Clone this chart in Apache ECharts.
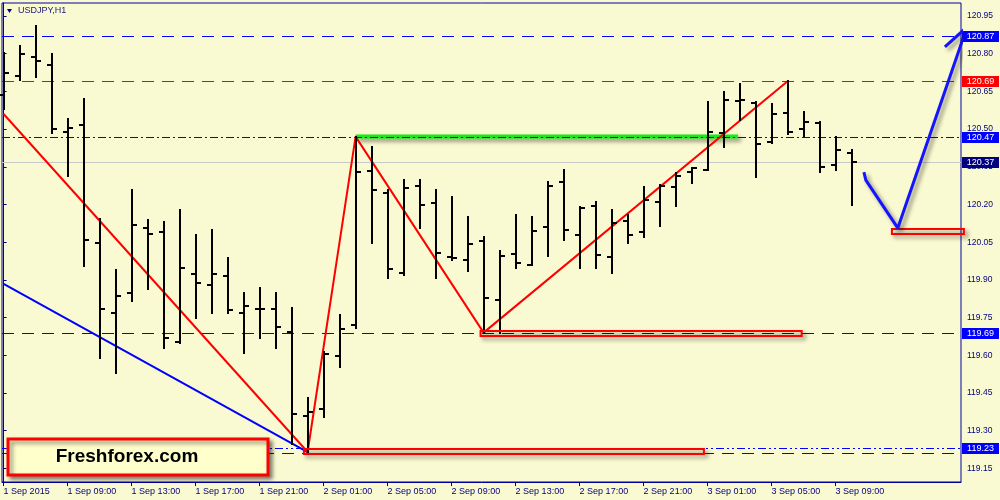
<!DOCTYPE html>
<html><head><meta charset="utf-8">
<script src="https://cdn.jsdelivr.net/npm/echarts@6/dist/echarts.min.js"></script>
<style>html,body{margin:0;padding:0;background:#FAFAD2}#c{width:1000px;height:500px}</style>
</head><body><div id="c"></div>
<script>
// ---- data (USDJPY H1, 1 Sep 05:00 .. 3 Sep 10:00) ----
const opens  = [120.636,120.711,120.787,120.755,120.488,120.516,120.047,119.768,119.848,120.106,
                120.091,119.653,119.923,119.880,119.915,119.768,119.784,119.784,119.693,119.358,
                119.386,119.597,119.720,120.333,120.246,119.927,120.274,120.206,119.991,119.979,
                120.055,119.820,120.003,119.959,120.110,120.289,120.079,120.194,119.991,120.134,
                120.091,120.210,120.270,120.329,120.337,120.484,120.612,120.604,120.449,120.564,
                120.500,120.524,120.357,120.405];
const highs  = [120.803,120.831,120.910,120.799,120.540,120.620,120.142,119.939,120.258,120.138,
                120.130,120.178,120.079,120.098,119.987,119.848,119.868,119.848,119.788,119.430,
                119.613,119.760,120.470,120.429,120.258,120.297,120.297,120.258,120.230,120.150,
                120.071,120.015,120.158,120.150,120.289,120.337,120.190,120.210,120.178,120.158,
                120.270,120.278,120.325,120.345,120.608,120.648,120.679,120.608,120.600,120.690,
                120.568,120.528,120.469,120.417];
const lows   = [120.580,120.695,120.707,120.484,120.313,119.955,119.589,119.529,119.816,119.864,
                119.629,119.649,119.748,119.768,119.768,119.609,119.669,119.629,119.247,119.215,
                119.354,119.553,119.709,120.047,119.907,119.919,120.106,119.907,119.979,119.935,
                119.690,119.690,119.947,119.959,119.995,120.059,119.947,119.947,119.927,120.047,
                120.071,120.114,120.194,120.285,120.337,120.429,120.536,120.309,120.445,120.480,
                120.473,120.329,120.337,120.198];
const closes = [120.723,120.799,120.771,120.500,120.504,120.059,119.784,119.836,120.118,120.083,
                119.669,119.947,119.888,119.923,119.780,119.796,119.784,119.713,119.366,119.374,
                119.605,119.705,120.329,120.258,119.943,120.266,120.198,120.007,119.987,120.043,
                119.828,119.995,119.967,120.095,120.274,120.098,120.186,119.999,120.126,120.079,
                120.218,120.274,120.313,120.345,120.488,120.616,120.616,120.441,120.560,120.488,
                120.528,120.349,120.417,120.369];

const xTickIdx    = [0,4,8,12,16,20,24,28,32,36,40,44,48,52];
const xTickLabels = ['1 Sep 2015','1 Sep 09:00','1 Sep 13:00','1 Sep 17:00','1 Sep 21:00',
                     '2 Sep 01:00','2 Sep 05:00','2 Sep 09:00','2 Sep 13:00','2 Sep 17:00',
                     '2 Sep 21:00','3 Sep 01:00','3 Sep 05:00','3 Sep 09:00'];
const yTickValues = [120.95,120.80,120.65,120.50,120.35,120.20,120.05,119.90,119.75,119.60,119.45,119.30,119.15];

const levelPrices = [120.87,120.69,120.47,120.37,119.69,119.23,119.21];
const levelLabels = ['120.87','120.69','120.47','120.37','119.69','119.23',''];

const redFanLine  = [[0,120.56],[19,119.215]];
const blueFanLine = [[0,119.884],[19,119.215]];
const zigzag      = [[19,119.215],[22,120.47],[30,119.69],[49,120.69]];
const greenLevel  = [[22,120.47],[45.9,120.47]];
const boxes       = [[18.77,119.227,43.77,119.207],[29.81,119.697,49.88,119.677],[55.52,120.102,60.02,120.083]];
const arrowPath   = [[53.77,120.329],[53.89,120.297],[55.89,120.106],[60.21,120.906]];
const arrowHeadL  = [[58.83,120.827],[60.21,120.906]];
const arrowHeadR  = [[60.21,120.906],[60.08,120.783]];

// ---- styles ----
const levelStyles = [
  {color:'#0000ff', dash:[12,8], box:'#0000ff'},
  {color:'#ff0000', dash:[12,8], box:'#ff0000'},
  {color:'#0000ff', dash:[8,3,2,3], box:'#0000ff'},
  {color:'#c8c8c8', dash:null, box:'#000080'},
  {color:'#0000ff', dash:[12,8], box:'#0000ff'},
  {color:'#0000ff', dash:[8,3,2,3,2,3], box:'#0000ff'},
  {color:'#0000ff', dash:[12,8], box:null}
];
const FONT = 'Liberation Sans';
const AXIS = '#000080';
const shadow = {shadowBlur:4, shadowColor:'rgba(0,0,0,0.45)', shadowOffsetX:3, shadowOffsetY:3};

const ohlc = opens.map((o,i)=>[i,o,highs[i],lows[i],closes[i]]);
const levelData = levelPrices.map((p,k)=>[0,p,k]);

const chart = echarts.init(document.getElementById('c'), null, {renderer:'canvas'});
chart.setOption({
  animation:false,
  backgroundColor:'#FAFAD2',
  grid:{left:2, right:39, top:3, bottom:18, show:true, borderColor:'#0000a0', borderWidth:1, backgroundColor:'transparent'},
  xAxis:{
    type:'value', min:-0.1, max:-0.1+959/16,
    axisLine:{show:true, lineStyle:{color:'#0000a0'}},
    splitLine:{show:false},
    axisTick:{show:true, length:4, customValues:xTickIdx, lineStyle:{color:AXIS}},
    axisLabel:{customValues:xTickIdx, align:'left', margin:5, color:AXIS, fontFamily:FONT, fontSize:9,
      formatter:v=>xTickLabels[xTickIdx.indexOf(Math.round(v))]}
  },
  yAxis:{
    type:'value', position:'right', min:119.0957, max:121.0017,
    axisLine:{show:true, lineStyle:{color:'#0000a0'}},
    splitLine:{show:false},
    axisTick:{show:true, length:3, customValues:yTickValues, lineStyle:{color:AXIS}},
    axisLabel:{customValues:yTickValues, align:'left', margin:6, color:AXIS, fontFamily:FONT, fontSize:8.5,
      formatter:v=>v.toFixed(2)}
  },
  graphic:[
    {type:'polygon', shape:{points:[[7,9],[12,9],[9.5,13]]}, style:{fill:'#000080'}, z:100},
    {type:'text', x:18, y:11, style:{text:'USDJPY,H1', fill:'#202080', font:'9px "Liberation Sans"', textVerticalAlign:'middle'}, z:100},
    {type:'rect', shape:{x:8, y:439, width:260, height:36}, style:Object.assign({fill:'#ffffcc', stroke:'#ff0000', lineWidth:3}, shadow), z:100},
    {type:'text', x:127, y:457, style:{text:'Freshforex.com', fill:'#000', font:'bold 19px "Liberation Sans"', textAlign:'center', textVerticalAlign:'middle'}, z:101}
  ],
  series:[
    {
      type:'custom', data:levelData, silent:true, z:2, clip:false,
      encode:{x:0, y:1},
      renderItem:(params, api)=>{
        const k = api.value(2);
        const st = levelStyles[k];
        const cs = params.coordSys;
        const y = Math.round(api.coord([0, api.value(1)])[1]) + 0.5;
        const children = [{type:'line', shape:{x1:cs.x, y1:y, x2:cs.x+cs.width, y2:y},
          style:{stroke:st.color, lineWidth:1, lineDash:st.dash}}];
        if (st.box) {
          const bx = cs.x + cs.width + 1;
          children.push({type:'rect', shape:{x:bx, y:y-5.5, width:37, height:11}, style:{fill:st.box}, z2:10});
          children.push({type:'text', x:bx+18.5, y:y, style:{text:levelLabels[k], fill:'#fff',
            font:'9px "Liberation Sans"', textAlign:'center', textVerticalAlign:'middle'}, z2:11});
        }
        return {type:'group', children};
      }
    },
    {type:'line', data:blueFanLine, symbol:'none', lineStyle:{color:'#0000ff', width:2}, silent:true, z:3},
    {type:'line', data:redFanLine, symbol:'none', lineStyle:{color:'#ff0000', width:2}, silent:true, z:3},
    {type:'line', data:zigzag, symbol:'none', lineStyle:{color:'#ff0000', width:2}, silent:true, z:3},
    {type:'line', data:greenLevel, symbol:'none', lineStyle:Object.assign({color:'#11ee11', width:4}, shadow), silent:true, z:1},
    {
      type:'custom', data:ohlc, silent:true, z:4,
      encode:{x:0, y:[1,2,3,4]},
      renderItem:(params, api)=>{
        const i = api.value(0);
        const o = api.coord([i, api.value(1)]), h = api.coord([i, api.value(2)]);
        const l = api.coord([i, api.value(3)]), c = api.coord([i, api.value(4)]);
        const x = Math.round(h[0]);
        const st = {stroke:'#000', lineWidth:2};
        return {type:'group', children:[
          {type:'line', shape:{x1:x, y1:Math.round(h[1])-1, x2:x, y2:Math.round(l[1])+1}, style:st},
          {type:'line', shape:{x1:x-5, y1:Math.round(o[1]), x2:x, y2:Math.round(o[1])}, style:st},
          {type:'line', shape:{x1:x, y1:Math.round(c[1]), x2:x+5, y2:Math.round(c[1])}, style:st}
        ]};
      }
    },
    {
      type:'custom', data:boxes, silent:true, z:5, clip:false,
      encode:{x:[0,2], y:[1,3]},
      renderItem:(params, api)=>{
        const a = api.coord([api.value(0), api.value(1)]);
        const b = api.coord([api.value(2), api.value(3)]);
        return {type:'rect', shape:{x:a[0], y:a[1], width:b[0]-a[0], height:b[1]-a[1]},
          style:Object.assign({fill:'none', stroke:'#ff0000', lineWidth:2}, shadow)};
      }
    },
    {type:'line', data:arrowPath, symbol:'none', clip:false, lineStyle:Object.assign({color:'#1414ff', width:3}, shadow), silent:true, z:6},
    {type:'line', data:arrowHeadL, symbol:'none', clip:false, lineStyle:Object.assign({color:'#1414ff', width:3}, shadow), silent:true, z:6},
    {type:'line', data:arrowHeadR, symbol:'none', clip:false, lineStyle:Object.assign({color:'#1414ff', width:3}, shadow), silent:true, z:6}
  ]
});
</script></body></html>
